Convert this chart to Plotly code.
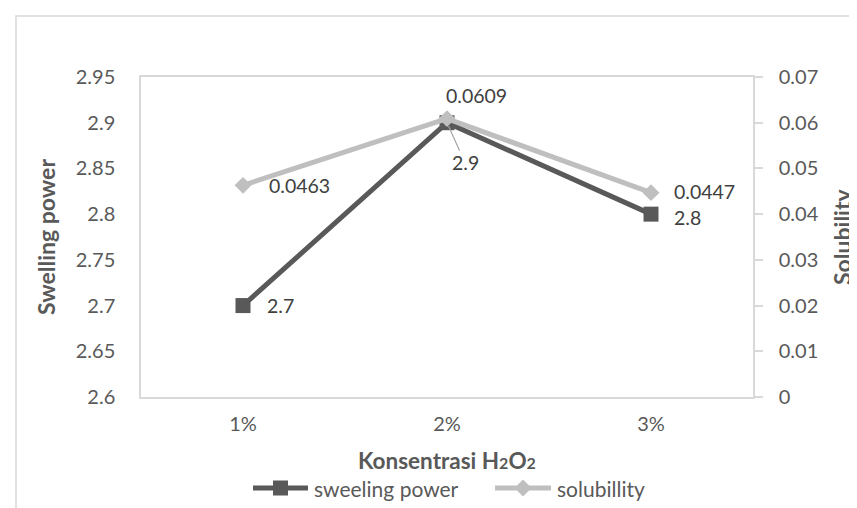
import plotly.graph_objects as go

categories = ["1%", "2%", "3%"]
swelling = [2.7, 2.9, 2.8]
solubility = [0.0463, 0.0609, 0.0447]
y1_ticks = [2.6, 2.65, 2.7, 2.75, 2.8, 2.85, 2.9, 2.95]
y2_ticks = [0, 0.01, 0.02, 0.03, 0.04, 0.05, 0.06, 0.07]
series_names = ["sweeling power", "solubillity"]

FONT = "Lato, Carlito, 'Open Sans', sans-serif"
TXT = "#595959"
LAB = "#404040"
DARK = "#595959"
LIGHT = "#BFBFBF"
BORDER = "#D9D9D9"
FS = 20

W, H = 857, 508
l, r, t, b = 133, 112, 69, 119
pw, ph = W - l - r, H - t - b
def px(xp): return (xp - l) / pw
def py(yp): return (H - b - yp) / ph

fig = go.Figure()
fig.add_trace(go.Scatter(
    x=categories, y=swelling, name=series_names[0], mode="lines+markers",
    line=dict(color=DARK, width=5), marker=dict(symbol="square", size=15, color=DARK),
    yaxis="y", showlegend=False))
fig.add_trace(go.Scatter(
    x=categories, y=solubility, name=series_names[1], mode="lines+markers",
    line=dict(color=LIGHT, width=5), marker=dict(symbol="diamond", size=13, color=LIGHT),
    yaxis="y2", showlegend=False))

lab_font = dict(family=FONT, size=19.5, color=LAB)
common = dict(showarrow=False, xanchor="left", yanchor="middle", borderpad=0, font=lab_font)
fig.add_annotation(x=categories[0], y=swelling[0], yref="y", text=f"{swelling[0]:g}",
                   xshift=23, yshift=0, **common)
fig.add_annotation(x=categories[1], y=swelling[1], yref="y", text=f"{swelling[1]:g}",
                   showarrow=True, arrowhead=0, arrowwidth=1.2, arrowcolor="#A6A6A6",
                   ax=18, ay=40, standoff=4, borderpad=0, font=lab_font)
fig.add_annotation(x=categories[2], y=swelling[2], yref="y", text=f"{swelling[2]:g}",
                   xshift=22, yshift=-3, **common)
fig.add_annotation(x=categories[0], y=solubility[0], yref="y2", text=f"{solubility[0]:g}",
                   xshift=25, yshift=0, **common)
fig.add_annotation(x=categories[1], y=solubility[1], yref="y2", text=f"{solubility[1]:g}",
                   xshift=-2, yshift=23, **common)
fig.add_annotation(x=categories[2], y=solubility[2], yref="y2", text=f"{solubility[2]:g}",
                   xshift=22, yshift=1, **common)

# axis titles
fig.add_annotation(xref="paper", yref="paper", x=px(38), y=0.5, textangle=-90,
                   xanchor="center", yanchor="middle", borderpad=0,
                   text="<b>Swelling power</b>", showarrow=False,
                   font=dict(family=FONT, size=23, color=TXT))
fig.add_annotation(xref="paper", yref="paper", x=px(834), y=0.5, textangle=-90,
                   xanchor="center", yanchor="middle", borderpad=0,
                   text="<b>Solubility</b>", showarrow=False,
                   font=dict(family=FONT, size=23, color=TXT))
fig.add_annotation(xref="paper", yref="paper", x=0.5, y=py(452), xanchor="center", yanchor="middle",
                   borderpad=0,
                   text="<b>Konsentrasi H<span style='font-size:16px'>2</span>O<span style='font-size:16px'>2</span></b>",
                   showarrow=False, font=dict(family=FONT, size=22.5, color=TXT))

# legend (drawn: line + marker + label)
LEG_Y = 480
legend_items = [
    (series_names[0], DARK, "square", 245, 300),
    (series_names[1], LIGHT, "diamond", 487, 543),
]
for name, col, sym, x0, x1 in legend_items:
    fig.add_shape(type="line", xref="paper", yref="paper",
                  x0=px(x0), x1=px(x1), y0=py(LEG_Y), y1=py(LEG_Y),
                  line=dict(color=col, width=5))
    cx = (x0 + x1) / 2
    if sym == "square":
        s = 7.5
        path = (f"M {px(cx - s)} {py(LEG_Y - s)} L {px(cx + s)} {py(LEG_Y - s)} "
                f"L {px(cx + s)} {py(LEG_Y + s)} L {px(cx - s)} {py(LEG_Y + s)} Z")
    else:
        s = 8.5
        path = (f"M {px(cx)} {py(LEG_Y - s)} L {px(cx + s)} {py(LEG_Y)} "
                f"L {px(cx)} {py(LEG_Y + s)} L {px(cx - s)} {py(LEG_Y)} Z")
    fig.add_shape(type="path", xref="paper", yref="paper", path=path,
                  fillcolor=col, line=dict(color=col, width=0))
    fig.add_annotation(xref="paper", yref="paper", x=px(x1 + 5), y=py(LEG_Y),
                       xanchor="left", yanchor="middle", text=name, showarrow=False,
                       borderpad=0, font=dict(family=FONT, size=21, color=TXT))

# outer chart border (left/top visible)
fig.add_shape(type="rect", xref="paper", yref="paper",
              x0=px(8), x1=px(880), y0=py(530), y1=py(8),
              line=dict(color=BORDER, width=1.5), layer="below")

fig.update_layout(
    width=W, height=H, margin=dict(l=l, r=r, t=t, b=b, autoexpand=False),
    paper_bgcolor="white", plot_bgcolor="white",
    font=dict(family=FONT, size=FS, color=TXT),
    xaxis=dict(type="category", range=[-0.5, 2.5], showgrid=False, showline=True,
               linecolor=BORDER, linewidth=1.5, mirror=True, ticks="",
               ticklabelstandoff=8, automargin=False,
               tickfont=dict(size=FS, color=TXT)),
    yaxis=dict(range=[2.6, 2.95], tickvals=y1_ticks, ticktext=[f"{v:g}" for v in y1_ticks],
               showgrid=False, showline=True, linecolor=BORDER, linewidth=1.5, mirror=True,
               ticks="", zeroline=False, ticklabelstandoff=20, automargin=False,
               tickfont=dict(size=FS, color=TXT)),
    yaxis2=dict(range=[0, 0.07], tickvals=y2_ticks, ticktext=[f"{v:g}" for v in y2_ticks],
                overlaying="y", side="right", showgrid=False, showline=True, linecolor=BORDER,
                linewidth=1.5, ticks="outside", ticklen=8, tickcolor=BORDER, tickwidth=1.5,
                zeroline=False, ticklabelstandoff=12, automargin=False,
                tickfont=dict(size=FS, color=TXT)),
    showlegend=False,
)

fig.write_html("out.html")
